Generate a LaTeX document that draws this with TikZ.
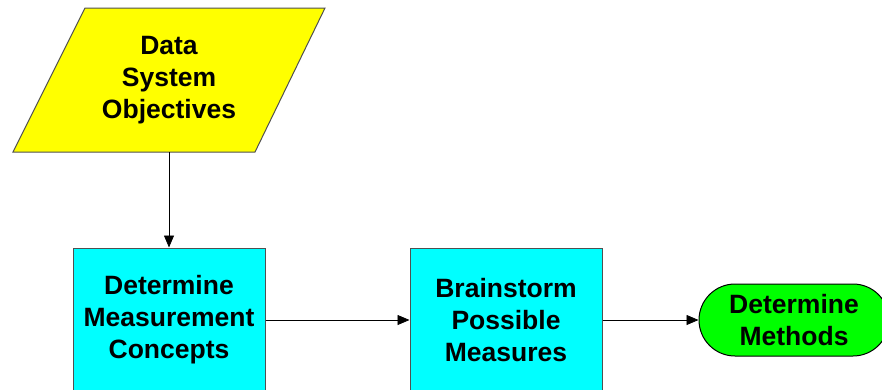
\documentclass[tikz,border=0pt]{standalone}
\usepackage{fontspec}
\setmainfont{Liberation Sans}
\usetikzlibrary{arrows.meta,shapes.misc}
\definecolor{cyanbox}{HTML}{00FFFF}
\definecolor{yelbox}{HTML}{FFFF00}
\definecolor{grnbox}{HTML}{00FF00}
\definecolor{edgegray}{HTML}{505050}
\tikzset{
  lbl/.style={font=\bfseries\fontsize{26.5}{32}\selectfont, align=center, text=black},
  procbox/.style={lbl, draw=edgegray, line width=1pt, fill=cyanbox, minimum width=192pt, minimum height=144pt, inner sep=0pt},
  termbox/.style={lbl, draw=black, line width=1pt, fill=grnbox, rounded rectangle, minimum width=190pt, minimum height=72pt, inner sep=0pt},
  conn/.style={line width=0.8pt, -{Triangle[length=12pt,width=10pt]}}
}
\begin{document}
\begin{tikzpicture}[x=1pt,y=-1pt]
\useasboundingbox (0,0) rectangle (882,389);
\clip (0,0) rectangle (882,389);
\fill[white] (0,0) rectangle (882,389);
\draw[draw=edgegray, line width=1pt, fill=yelbox] (85,8) -- (325,8) -- (255,152) -- (13,152) -- cycle;
\node[lbl, minimum height=144pt, inner sep=0pt] (dso) at (169,80) {Data\\System\\Objectives};
\node[procbox] (dmc) at (169,320) {Determine\\Measurement\\Concepts};
\node[procbox] (bpm) at (506,320) {Brainstorm\\Possible\\Measures};
\node[termbox] (dm) at (794,320) {Determine\\Methods};
\draw[conn] (dso.south) -- (dmc.north);
\draw[conn] (dmc.east) -- (bpm.west);
\draw[conn] (bpm.east) -- (dm.west);
\end{tikzpicture}
\end{document}
